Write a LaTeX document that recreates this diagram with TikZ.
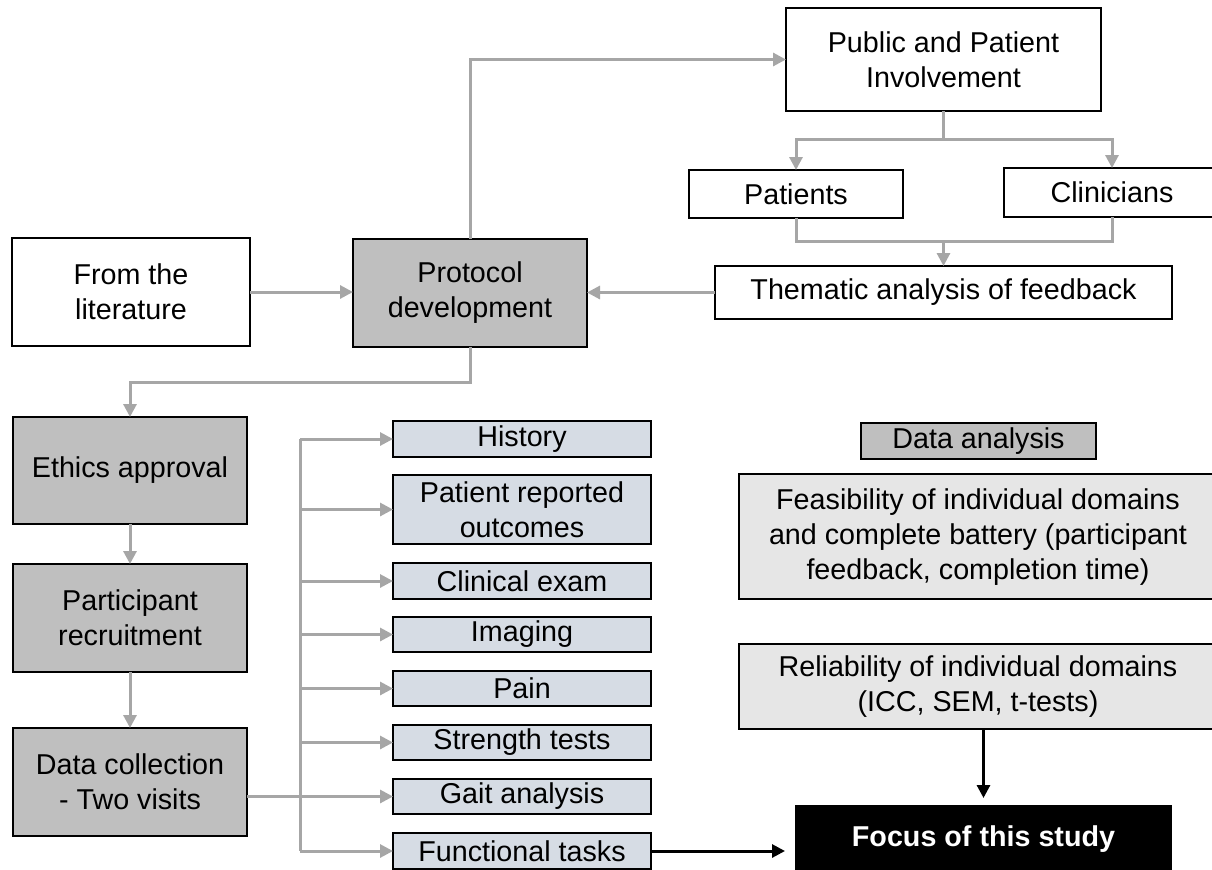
\documentclass[tikz,border=0pt]{standalone}
\usepackage{fontspec}
\setmainfont{Liberation Sans}
\usetikzlibrary{arrows.meta,calc}
\definecolor{boxgray}{HTML}{BFBFBF}
\definecolor{itemblue}{HTML}{D6DCE4}
\definecolor{lightgray}{HTML}{E6E6E6}
\definecolor{conngray}{HTML}{A6A6A6}
\newcommand{\bnode}[7]{\node[#1, minimum width={(#5-#3)*0.5pt}, minimum height={(#6-#4)*0.5pt}] (#2) at ({(#3+#5)/2},{(#4+#6)/2}) {#7};}
\begin{document}
\begin{tikzpicture}[x=0.5pt,y=-0.5pt,
  every node/.style={font=\fontsize{14.35pt}{17.5pt}\selectfont, align=center, inner sep=0pt, outer sep=0pt},
  bx/.style={draw=black, line width=1pt},
  whitebox/.style={bx, fill=white},
  graybox/.style={bx, fill=boxgray},
  itembox/.style={bx, fill=itemblue},
  lightbox/.style={bx, fill=lightgray},
  focusbox/.style={fill=black, text=white, font=\fontsize{14.35pt}{17.5pt}\selectfont\bfseries},
  garrow/.style={draw=conngray, line width=1.5pt, -{Triangle[length=6.5pt,width=6.5pt]}},
  gline/.style={draw=conngray, line width=1.5pt},
  barrow/.style={draw=black, line width=1.5pt, -{Triangle[length=6.5pt,width=6.5pt]}}
]
\clip (0,0) rectangle (1212,869);
\fill[white] (0,0) rectangle (1212,869);

% top part
\bnode{whitebox}{lit}{12}{238}{250}{346}{From the\\literature}
\bnode{graybox}{proto}{353}{239}{587}{347}{Protocol\\development}
\bnode{whitebox}{ppi}{786}{8}{1101}{111}{Public and Patient\\Involvement}
\bnode{whitebox}{patients}{689}{170}{903}{218}{Patients}
\bnode{whitebox}{clinicians}{1004}{168}{1220}{217}{Clinicians}
\bnode{whitebox}{thematic}{715}{266}{1172}{319}{Thematic analysis of feedback}

% left column
\bnode{graybox}{ethics}{13}{417}{247}{524}{Ethics approval}
\bnode{graybox}{recruit}{13}{564}{247}{672}{Participant\\recruitment}
\bnode{graybox}{datacoll}{13}{728}{247}{836}{Data collection\\- Two visits}

% items
\bnode{itembox}{hist}{393}{421}{651}{457}{History}
\bnode{itembox}{pro}{393}{475}{651}{544}{Patient reported\\outcomes}
\bnode{itembox}{clin}{393}{563}{651}{599}{Clinical exam}
\bnode{itembox}{imag}{393}{617}{651}{652}{Imaging}
\bnode{itembox}{pain}{393}{671}{651}{706}{Pain}
\bnode{itembox}{stren}{393}{725}{651}{760}{Strength tests}
\bnode{itembox}{gait}{393}{779}{651}{814}{Gait analysis}
\bnode{itembox}{func}{393}{833}{651}{869}{Functional tasks}

% data analysis
\bnode{graybox}{danal}{861}{423}{1096}{459}{Data analysis}
\bnode{lightbox}{feas}{739}{474}{1218}{599}{}
\node at (978,537) (feastext) {Feasibility of individual domains\\and complete battery (participant\\feedback, completion time)};
\bnode{lightbox}{rel}{739}{644}{1218}{729}{}
\node at (978,686.5) (reltext) {Reliability of individual domains\\(ICC, SEM, t-tests)};
\bnode{focusbox}{focus}{795}{805}{1172}{873}{}
\node[text=white, font=\fontsize{14.35pt}{17.5pt}\selectfont\bfseries] at (983.5,839) (focustext) {Focus of this study};

% connectors top
\draw[garrow] (lit.east) -- (lit.east -| proto.west);
\draw[garrow] (proto.north) |- (ppi.west);
\coordinate (ys) at (0,139);
\coordinate (ym) at (0,241);
\coordinate (s1) at (ppi.south |- ys);
\coordinate (m1) at (ppi.south |- ym);
\draw[gline] (ppi.south) -- (s1);
\draw[garrow] (s1) -| (patients.north);
\draw[garrow] (s1) -| (clinicians.north);
\draw[gline] (patients.south) |- (m1);
\draw[gline] (clinicians.south) |- (m1);
\draw[garrow] (m1) -- (m1 |- thematic.north);
\draw[garrow] (thematic.west) -- (thematic.west -| proto.east);

% left column connectors
\coordinate (yc) at (0,382);
\coordinate (c1) at (proto.south |- yc);
\draw[garrow] (proto.south) -- (c1) -| (ethics.north);
\draw[garrow] (ethics.south) -- (recruit.north);
\draw[garrow] (recruit.south) -- (datacoll.north);

% trunk
\coordinate (tr) at (300,0);
\draw[gline] (tr |- hist.west) -- (tr |- func.west);
\draw[garrow] (tr |- hist.west) -- (hist.west);
\draw[garrow] (tr |- pro.west) -- (pro.west);
\draw[garrow] (tr |- clin.west) -- (clin.west);
\draw[garrow] (tr |- imag.west) -- (imag.west);
\draw[garrow] (tr |- pain.west) -- (pain.west);
\draw[garrow] (tr |- stren.west) -- (stren.west);
\draw[garrow] (tr |- func.west) -- (func.west);
\draw[garrow] (datacoll.east |- gait.west) -- (gait.west);

% black arrows
\draw[barrow, shorten >=5pt] (func.east) -- (func.east -| focus.west);
\draw[barrow, shorten >=3.5pt] (focus.north |- rel.south) -- (focus.north);
\end{tikzpicture}
\end{document}
